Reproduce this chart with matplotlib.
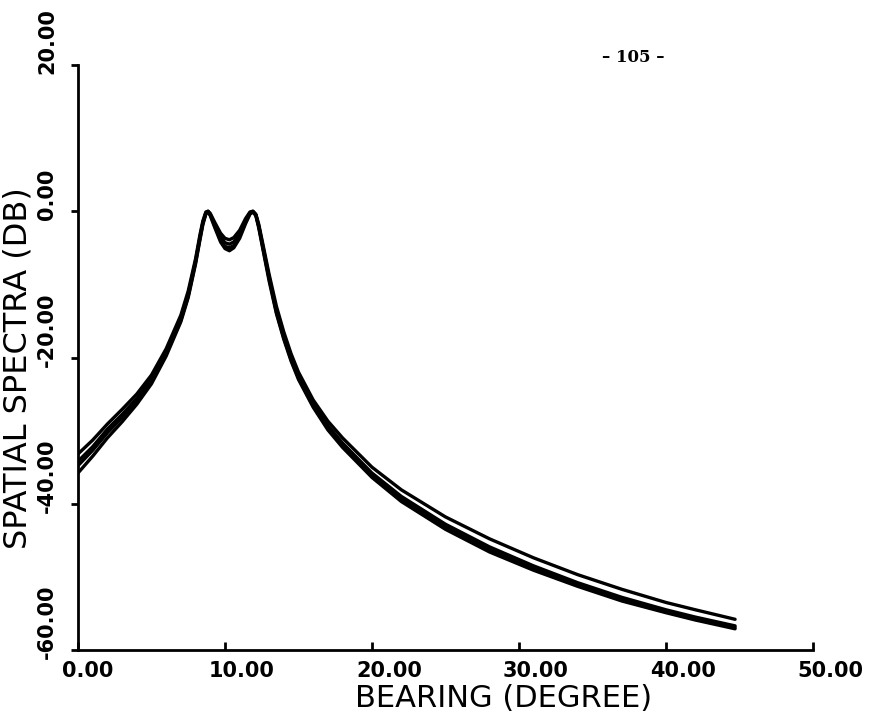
import matplotlib
matplotlib.use("Agg")
import matplotlib.pyplot as plt
from matplotlib.transforms import ScaledTranslation

# Bearing grid (degrees) shared by all spectrum estimates
bearing = [0, 1, 2, 3, 4, 5, 6, 7, 7.5, 8.0, 8.3, 8.5, 8.7, 8.85, 9.0, 9.3, 9.7,
           10.0, 10.3, 10.6, 11.0, 11.4, 11.7, 11.9, 12.1, 12.3, 12.6, 13.0, 13.5,
           14.0, 14.5, 15.0, 16.0, 17.0, 18.0, 20.0, 22.0, 25.0, 28.0, 31.0, 34.0,
           37.0, 40.0, 42.0, 44.7]

# Spatial spectra (dB) of the individual trials
trial_1 = [-34.2, -32.2, -29.8, -27.8, -25.6, -22.9, -19.2, -14.6, -11.3, -6.8, -3.5,
           -1.5, -0.2, 0.0, -0.4, -1.8, -3.5, -4.3, -4.5, -4.2, -3.0, -1.3, -0.2, 0.0,
           -0.5, -2.0, -5.0, -9.0, -13.5, -17.0, -20.0, -22.5, -26.3, -29.3, -31.7,
           -35.8, -39.0, -42.8, -45.9, -48.5, -50.8, -52.8, -54.5, -55.5, -56.7]
trial_2 = [-35.8, -33.5, -31.0, -28.8, -26.4, -23.6, -19.8, -15.1, -11.8, -7.2, -3.9,
           -1.8, -0.4, -0.1, -0.6, -2.2, -4.2, -5.1, -5.4, -5.0, -3.7, -1.7, -0.4, -0.1,
           -0.6, -2.3, -5.4, -9.5, -14.0, -17.5, -20.5, -23.0, -26.8, -29.9, -32.3,
           -36.4, -39.7, -43.5, -46.6, -49.1, -51.3, -53.3, -54.9, -55.9, -57.1]
trial_3 = [-33.2, -31.3, -29.1, -27.1, -25.0, -22.4, -18.8, -14.2, -10.9, -6.5, -3.2,
           -1.3, -0.1, 0.0, -0.3, -1.5, -3.0, -3.7, -3.9, -3.6, -2.6, -1.0, -0.1, 0.0,
           -0.4, -1.8, -4.7, -8.6, -13.0, -16.5, -19.5, -22.0, -25.8, -28.7, -31.0,
           -35.0, -38.1, -41.8, -44.8, -47.4, -49.7, -51.7, -53.5, -54.5, -55.8]
trial_4 = [-34.8, -32.7, -30.3, -28.2, -25.9, -23.2, -19.5, -14.9, -11.6, -7.0, -3.7,
           -1.6, -0.3, -0.05, -0.5, -2.0, -3.9, -4.8, -5.0, -4.7, -3.4, -1.5, -0.3, -0.05,
           -0.5, -2.1, -5.2, -9.2, -13.8, -17.3, -20.3, -22.8, -26.6, -29.6, -32.0,
           -36.2, -39.4, -43.2, -46.3, -48.9, -51.1, -53.1, -54.8, -55.8, -56.9]

x_ticks = [0, 10, 20, 30, 40, 50]
x_tick_labels = ["0.00", "10.00", "20.00", "30.00", "40.00", "50.00"]
y_ticks = [20, 0, -20, -40, -60]
y_tick_labels = ["20.00", "0.00", "-20.00", "-40.00", "-60.00"]

fig = plt.figure(figsize=(8.74, 7.15), dpi=100)
ax = fig.add_axes([0.0892, 0.0909, 0.8410, 0.8182])

for trial in (trial_1, trial_2, trial_3, trial_4):
    ax.plot(bearing, trial, color="black", lw=2.4, solid_capstyle="round")

ax.set_xlim(0, 50)
ax.set_ylim(-60, 20)

for side in ("top", "right"):
    ax.spines[side].set_visible(False)
for side in ("left", "bottom"):
    ax.spines[side].set_linewidth(2.0)

tick_font = dict(family="DejaVu Sans", weight="bold", size=15)

ax.set_xticks(x_ticks, x_tick_labels, **tick_font)
ax.set_yticks(y_ticks, y_tick_labels, **tick_font)
ax.tick_params(axis="x", direction="in", length=6, width=2, pad=8)
ax.tick_params(axis="y", direction="out", length=5, width=2, pad=10)

dpi_t = fig.dpi_scale_trans
for lab in ax.get_xticklabels():
    lab.set_ha("left")
    lab.set_transform(lab.get_transform() + ScaledTranslation(-0.16, 0, dpi_t))
for lab in ax.get_yticklabels():
    lab.set_rotation(90)
    lab.set_va("bottom")
    lab.set_transform(lab.get_transform() + ScaledTranslation(0, -0.09, dpi_t))

ax.set_xlabel("BEARING (DEGREE)", family="DejaVu Sans", size=22)
ax.xaxis.label.set_va("baseline")
ax.xaxis.set_label_coords((504 - 78) / 735, -0.097)
ax.set_ylabel("SPATIAL SPECTRA (DB)", family="DejaVu Sans", size=23)
ax.yaxis.set_label_coords(-0.061, 0.482)

fig.text(0.724, 0.919, "– 105 –", family="DejaVu Serif", weight="bold",
         size=12, ha="center", va="center")

fig.savefig("out.png", dpi=100, facecolor="white")
